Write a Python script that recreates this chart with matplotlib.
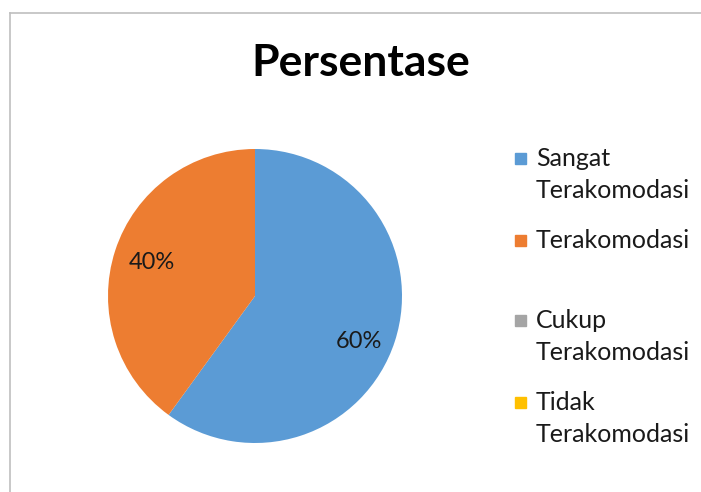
import numpy as np
import matplotlib.pyplot as plt
from matplotlib.patches import Rectangle
from matplotlib.lines import Line2D

title = 'Persentase'
labels = ['Sangat\nTerakomodasi', 'Terakomodasi', 'Cukup\nTerakomodasi', 'Tidak\nTerakomodasi']
values = [60, 40, 0, 0]
colors = ['#5B9BD5', '#ED7D31', '#A5A5A5', '#FFC000']

W, H = 701, 492
plt.rcParams['font.family'] = ['Lato', 'DejaVu Sans']

fig = plt.figure(figsize=(W / 100, H / 100), dpi=100)


def fx(x):
    return x / W


def fy(y):
    return 1 - y / H


# pie area: centre (255, 296), radius 147 px
cx, cy, r = 255, 296, 147
ax = fig.add_axes([fx(cx - r), fy(cy + r), 2 * r / W, 2 * r / H])


def pct(p):
    return f'{p:.0f}%' if p > 0.5 else ''


wedges, texts, autotexts = ax.pie(values, colors=colors, startangle=90, counterclock=False,
                                  autopct=pct, pctdistance=0.74,
                                  textprops=dict(fontsize=17, color='#1a1a1a'))
# Excel sits the 60% label a bit lower
autotexts[0].set_y(autotexts[0].get_position()[1] - 0.08)
ax.set_xlim(-1, 1)
ax.set_ylim(-1, 1)
ax.set_aspect('equal')

# chart frame (partly cropped)
fig.add_artist(Line2D([fx(9.5), fx(9.5)], [fy(12.5), 0], color='#BFBFBF', lw=1.2))
fig.add_artist(Line2D([fx(9.5), 1], [fy(12.5), fy(12.5)], color='#BFBFBF', lw=1.2))

fig.text(fx(361), fy(63), title, ha='center', va='center', fontsize=32, fontweight='bold', color='black')

# legend
entry_y = [158, 240, 320, 402]
line_h = 33
for lab, col, y in zip(labels, colors, entry_y):
    fig.add_artist(Rectangle((fx(515), fy(y + 5.5)), 11 / W, 11 / H, color=col, transform=fig.transFigure))
    for i, part in enumerate(lab.split('\n')):
        fig.text(fx(536), fy(y + i * line_h), part, ha='left', va='center', fontsize=18, color='#1a1a1a')

fig.savefig('out.png', dpi=100)
